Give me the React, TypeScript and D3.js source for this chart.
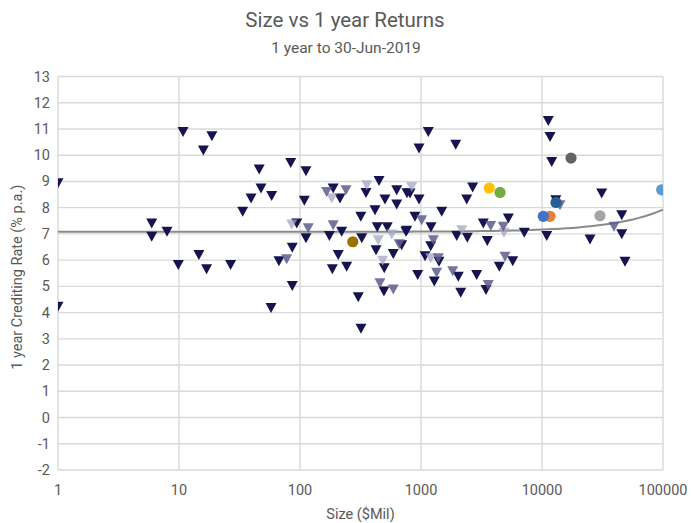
import React from "react";
import * as d3 from "d3";

// ---- data ----
const darkX = [1, 1, 10.8, 18.7, 15.9, 46, 39.4, 33.6, 5.95, 5.95, 7.96, 14.6, 9.87, 16.9, 26.7,
  83.8, 112, 47.6, 58.3, 108.6, 188, 214, 351, 450, 630, 504, 630, 766, 417, 318, 94, 112, 221, 175, 324, 435, 526, 751, 425, 590, 497, 86.3, 67, 207, 185, 243, 86.3, 57.6, 303, 319, 494,
  1149, 963, 1936, 11270, 11650, 12030, 811, 963, 2673, 2387, 1483, 891, 762, 1210, 3273, 5270, 1973, 2414, 3532, 7140, 10940, 692, 1203, 1079, 1408, 939, 1288, 2033, 2885, 2129, 3444, 4437, 5727,
  13000, 31140, 45600, 45600, 24940, 48530];
const darkY = [8.95, 4.24, 10.9, 10.74, 10.2, 9.47, 8.37, 7.86, 7.42, 6.91, 7.1, 6.21, 5.83, 5.67, 5.83,
  9.72, 9.41, 8.75, 8.46, 8.28, 8.75, 8.37, 8.58, 9.04, 8.68, 8.33, 8.14, 8.57, 7.92, 7.67, 7.42, 6.85, 7.1, 6.94, 6.85, 7.27, 7.27, 7.1, 6.4, 6.25, 5.71, 6.49, 5.98, 6.21, 5.67, 5.77, 5.03, 4.19, 4.6, 3.4, 4.82,
  10.9, 10.27, 10.42, 11.32, 10.71, 9.76, 8.56, 8.33, 8.79, 8.33, 7.86, 7.67, 7.14, 7.27, 7.42, 7.61, 6.94, 6.87, 6.75, 7.06, 6.94, 6.59, 6.55, 6.17, 5.96, 5.45, 5.2, 5.39, 5.45, 4.78, 4.88, 5.77, 5.98,
  8.3, 8.56, 7.73, 7.01, 6.81, 5.96];

const midX = [166, 240, 117, 188, 660, 77.6, 458, 590, 1013, 3767, 4786, 1265, 1390, 1346, 1828, 3597, 4946, 14090, 39360];
const midY = [8.62, 8.68, 7.23, 7.35, 6.62, 6.05, 5.14, 4.9, 7.54, 7.32, 7.29, 6.78, 6.09, 5.54, 5.6, 5.07, 6.15, 8.11, 7.29];

const lightX = [183, 356, 85.4, 573, 444, 482, 838, 4850, 2170, 1203];
const lightY = [8.37, 8.87, 7.38, 7.0, 6.78, 6.0, 8.81, 7.06, 7.16, 6.09];

const circleNames = ["Fund A", "Fund B", "Fund C", "Fund D", "Fund E", "Fund F", "Fund G", "Fund H", "Fund I"];
const circleX = [273, 3666, 4500, 11650, 10250, 17380, 13050, 30130, 97500];
const circleY = [6.7, 8.75, 8.58, 7.67, 7.67, 9.89, 8.2, 7.69, 8.68];
const circleColors = ["#997300", "#FFC000", "#70AD47", "#ED7D31", "#4472C4", "#636363", "#255E91", "#A5A5A5", "#5B9BD5"];

const trendIntercept = 7.08;
const trendSlope = 8.4e-6;

const xTicks = [1, 10, 100, 1000, 10000, 100000];
const yTicks = d3.range(-2, 14, 1);

const title = "Size vs 1 year Returns";
const subtitle = "1 year to 30-Jun-2019";
const xTitle = "Size ($Mil)";
const yTitle = "1 year Crediting Rate (% p.a.)";

const W = 691, H = 523;
const M = { left: 58, right: 663, top: 76.5, bottom: 470 };

export default function App() {
  const x = d3.scaleLog().domain([1, 100000]).range([M.left, M.right]);
  const y = d3.scaleLinear().domain([-2, 13]).range([M.bottom, M.top]);
  const tri = "M-5.5,-4.5L5.5,-4.5L0,5.5Z";
  const trendPts = d3.range(0, 5.0001, 0.05).map((e) => {
    const v = Math.pow(10, e);
    return [x(v), y(trendIntercept + trendSlope * v)] as [number, number];
  });
  const line = d3.line();
  const font = "Roboto, 'Liberation Sans', Arial, sans-serif";
  const tc = "#595959";
  const markers = (xs: number[], ys: number[], fill: string, op: number, key: string) =>
    xs.map((v, i) => (
      <path key={key + i} d={tri} transform={`translate(${x(v)},${y(ys[i])})`} fill={fill} fillOpacity={op} />
    ));
  return (
    <svg width={W} height={H} style={{ position: "absolute", left: 0, top: 0, background: "#fff" }} fontFamily={font}>
      <defs>
        <clipPath id="plotclip">
          <rect x={M.left} y={M.top - 6} width={M.right - M.left} height={M.bottom - M.top + 12} />
        </clipPath>
      </defs>
      <rect width={W} height={H} fill="#fff" />
      <text x={345} y={27} textAnchor="middle" fontSize={20.5} fill={tc}>{title}</text>
      <text x={346} y={53} textAnchor="middle" fontSize={15.5} fill={tc}>{subtitle}</text>
      {yTicks.map((t) => (
        <line key={"gy" + t} x1={M.left} x2={M.right} y1={y(t)} y2={y(t)} stroke="#d9d9d9" strokeWidth={1.4} />
      ))}
      {xTicks.map((t) => (
        <line key={"gx" + t} x1={x(t)} x2={x(t)} y1={M.top} y2={M.bottom} stroke="#d9d9d9" strokeWidth={1.4} />
      ))}
      {yTicks.map((t) => (
        <text key={"ty" + t} x={50} y={y(t) + 5} textAnchor="end" fontSize={14.5} fill={tc}>{t}</text>
      ))}
      {xTicks.map((t) => (
        <text key={"tx" + t} x={x(t)} y={495} textAnchor="middle" fontSize={14.5} fill={tc}>{t}</text>
      ))}
      <text x={(M.left + M.right) / 2} y={519} textAnchor="middle" fontSize={14.5} fill={tc}>{xTitle}</text>
      <text transform={`translate(22,${(M.top + M.bottom) / 2 + 4}) rotate(-90)`} textAnchor="middle" fontSize={14.5} fill={tc}>{yTitle}</text>
      <g clipPath="url(#plotclip)">
        <path d={line(trendPts) || ""} fill="none" stroke="#8a8a8a" strokeWidth={2} />
        {markers(darkX, darkY, "#16144f", 1, "d")}
        {markers(lightX, lightY, "#a4a4c2", 0.75, "l")}
        {markers(midX, midY, "#5e5c8c", 0.85, "m")}
        {circleX.map((v, i) => (
          <circle key={"c" + i} cx={x(v)} cy={y(circleY[i])} r={5.6} fill={circleColors[i]}>
            <title>{circleNames[i]}</title>
          </circle>
        ))}
      </g>
    </svg>
  );
}
